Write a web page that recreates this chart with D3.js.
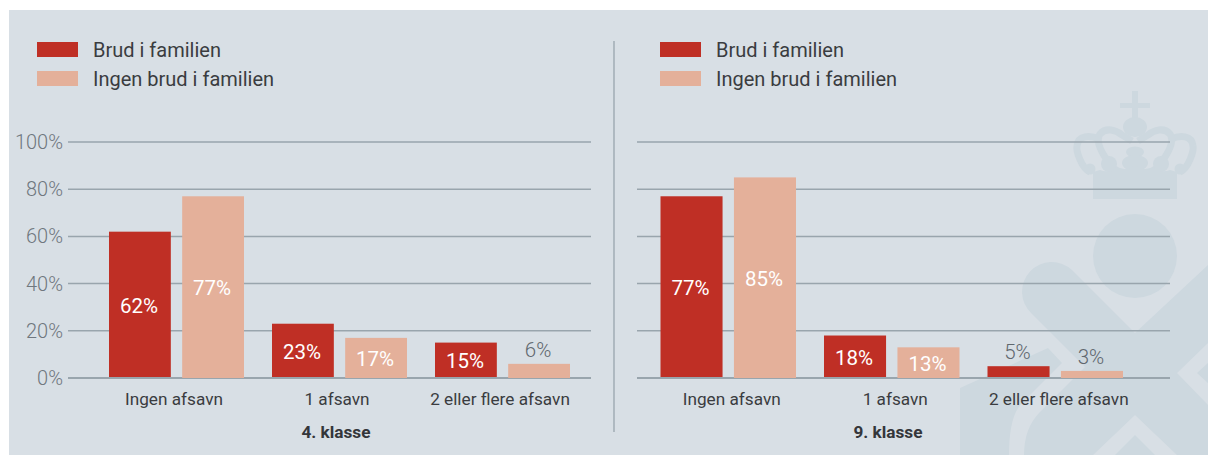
<!DOCTYPE html>
<html><head><meta charset="utf-8">
<script src="https://cdn.jsdelivr.net/npm/d3@7"></script>
<style>html,body{margin:0;background:#fff}svg{display:block}text{font-family:Roboto,sans-serif}</style>
</head><body><svg id="c" width="1208" height="455"></svg>
<script>
const categories=["Ingen afsavn","1 afsavn","2 eller flere afsavn"];
const seriesNames=["Brud i familien","Ingen brud i familien"];
const grade4Title="4. klasse";
const grade9Title="9. klasse";
const grade4Brud=[62,23,15];
const grade4Ingen=[77,17,6];
const grade9Brud=[77,18,5];
const grade9Ingen=[85,13,3];
const yTicks=[0,20,40,60,80,100];
const colors=["#bf2f25","#e4b09a"];

const bg="#d8dfe5", wmc="#cdd8df";
const svg=d3.select("#c");
svg.append("rect").attr("x",9).attr("y",10).attr("width",1199).attr("height",445).attr("fill",bg);

// watermark
const wm=svg.append("g").attr("fill",wmc);
wm.append("circle").attr("cx",1135).attr("cy",256).attr("r",42);
wm.append("path").attr("d","M1208 265L1135 333L1072 270A29 29 0 0 0 1031.5 313.5L1085 367L1040 412Q1024 428 1024 455H1208Z");
wm.append("path").attr("d","M960 388L1048 348L1062 363L1022 403Q1009 416 1009 455H960Z");
wm.append("path").attr("d","M1208 343L1177 373L1208 405V383L1197 373L1208 363Z").attr("fill",bg);
wm.append("path").attr("d","M1093 455L1135 415L1177 455H1155L1135 435L1115 455Z").attr("fill",bg);
// crown
wm.append("path").attr("d","M1132 91H1138V103H1150V108H1138V118H1132V108H1120V103H1132Z");
wm.append("ellipse").attr("cx",1135).attr("cy",127).attr("rx",12).attr("ry",10);
wm.append("ellipse").attr("cx",1135).attr("cy",152).attr("rx",9).attr("ry",5.5);
wm.append("ellipse").attr("cx",1135).attr("cy",163).attr("rx",13).attr("ry",8);
wm.append("path").attr("d","M1093 199H1177V172L1170 170Q1160 174 1154 166Q1146 172 1135 166Q1124 172 1116 166Q1110 174 1100 170L1093 172Z");
[0,1].forEach(m=>{
  const g=wm.append("g").attr("transform",m?"translate(2270,0) scale(-1,1)":null);
  g.append("circle").attr("cx",1109).attr("cy",164).attr("r",8);
  g.append("circle").attr("cx",1090).attr("cy",169).attr("r",5.5);
  g.append("path").attr("fill","none").attr("stroke",wmc).attr("stroke-width",7)
    .attr("d","M1090 172C1081 168 1076 150 1077 146C1078 135 1090 135 1099 139");
  g.append("path").attr("fill","none").attr("stroke",wmc).attr("stroke-width",7)
    .attr("d","M1107 160C1100 150 1096 140 1100 134C1106 127 1116 130 1122 135L1132 141");
});

function panel(x0,x1,bandL,bandR,title,a,b,titleX,labelShift,legendX,showY){
  const y=d3.scaleLinear().domain([0,100]).range([378,142]);
  const x=d3.scaleBand().domain(categories).range([bandL,bandR]).paddingInner(0).paddingOuter(0);
  const half=(124+(bandR-bandL)/3-163)/2+5.5;
  const sub=d3.scaleBand().domain([0,1]).range([x.bandwidth()/2-half,x.bandwidth()/2+half]).paddingInner(0.155).paddingOuter(0);
  svg.append("g").selectAll("line").data(yTicks).join("line")
    .attr("x1",x0).attr("x2",x1).attr("y1",d=>y(d)).attr("y2",d=>y(d))
    .attr("stroke","#99a5ad").attr("stroke-width",d=>d===0?2:1.5);
  if(showY){
    svg.append("g").selectAll("text").data(yTicks).join("text")
      .attr("x",63).attr("y",d=>y(d)+7).attr("text-anchor","end")
      .attr("font-size",20).attr("font-weight",300).attr("fill","#6f777e").text(d=>d+"%");
  }
  [a,b].forEach((vals,s)=>{
    const g=svg.append("g");
    g.selectAll("rect").data(vals).join("rect")
      .attr("x",(d,i)=>x(categories[i])+sub(s)).attr("width",sub.bandwidth())
      .attr("y",d=>y(d)).attr("height",d=>y(0)-y(d)-(s?0:1)).attr("fill",colors[s]);
    g.selectAll("text").data(vals).join("text")
      .attr("x",(d,i)=>x(categories[i])+sub(s)+sub.bandwidth()/2-1)
      .attr("y",d=>d<10?y(d)-7:y(d/2)+8)
      .attr("text-anchor","middle").attr("font-size",20.5).attr("font-weight",d=>d<10?300:400)
      .attr("fill",d=>d<10?"#5f676e":"#fff").text(d=>d+"%");
  });
  svg.append("g").selectAll("text").data(categories).join("text")
    .attr("x",d=>x(d)+x.bandwidth()/2+labelShift).attr("y",405).attr("text-anchor","middle")
    .attr("font-size",17.2).attr("fill","#3a3c40").text(d=>d);
  svg.append("text").attr("x",titleX).attr("y",438).attr("text-anchor","middle")
    .attr("font-size",17.2).attr("font-weight",700).attr("fill","#34363a").text(title);
  seriesNames.forEach((n,i)=>{
    svg.append("rect").attr("x",legendX).attr("y",42+i*29).attr("width",41).attr("height",15).attr("fill",colors[i]);
    svg.append("text").attr("x",legendX+56).attr("y",57+i*29).attr("font-size",20).attr("fill","#3a3c40").text(n);
  });
}
panel(68,591,95,584,grade4Title,grade4Brud,grade4Ingen,336,-2.5,37,true);
panel(637,1170,646.5,1137,grade9Title,grade9Brud,grade9Ingen,888,3.5,660,false);
svg.append("line").attr("x1",614).attr("x2",614).attr("y1",41).attr("y2",432).attr("stroke","#99a5ad").attr("stroke-width",1.3);
</script></body></html>
